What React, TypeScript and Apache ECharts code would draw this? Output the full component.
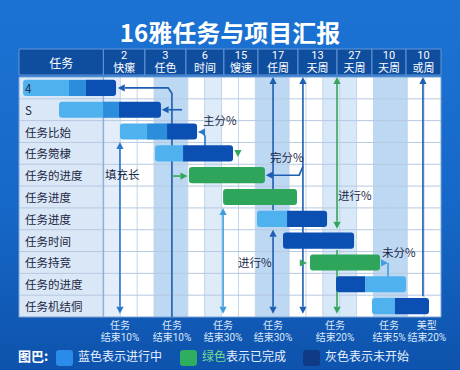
import React, { useEffect, useRef } from "react";
import * as echarts from "echarts";

const FONT = '"Noto Sans CJK SC", "Noto Sans", sans-serif';
const FONT_TIGHT = 'Roboto, "Noto Sans CJK SC", sans-serif';

const titleText = "16雅任务与项目汇报";
const rowLabels = ["4", "S", "任务比始", "任务箢棣", "任务的进度", "任务进度", "任务迸度", "任务时间", "任务持竞", "任务的进度", "任务机结侗"];

const headerFirst = "任务";
const headerEdges = [5, 7.46, 9.89, 12.14, 14.16, 16.53, 18.84, 20.91, 22.93, 25];
const headerNums = ["2", "3", "6", "15", "17", "13", "27", "10", "10"];
const headerWords = ["快瘰", "任色", "时间", "馊速", "任周", "天周", "天周", "天周", "或周"];

// per row: breakpoints along the timeline, and the status of each segment
const barStops: number[][] = [
  [0.24, 2.96, 3.97, 5.75],
  [2.37, 4.98, 5.92, 8.41],
  [5.98, 7.58, 8.77, 10.55],
  [8.06, 9.72, 12.68],
  [10.07, 14.57],
  [12.09, 16.47],
  [14.1, 15.88, 18.25],
  [15.64, 19.85],
  [17.24, 21.39],
  [18.78, 20.5, 22.93],
  [20.91, 22.27, 24.29],
];
const barKinds: string[][] = [
  ["light", "mid", "dark"],
  ["light", "mid", "dark"],
  ["light", "mid", "dark"],
  ["light", "dark"],
  ["green"],
  ["green"],
  ["light", "dark"],
  ["dark"],
  ["green"],
  ["dark", "light"],
  ["light", "dark"],
];

const bandSpans = [[5, 6], [8, 10], [11, 12], [14, 16], [18, 20], [21, 23]];

// connectors: points in [timeline, row] units
const links: { pts: number[][]; tone: string; start?: boolean; end?: boolean }[] = [
  { pts: [[5.98, 2.98], [5.98, 10.85]], tone: "mid", start: true, end: true },
  { pts: [[9.06, 11], [9.06, 0.76], [8.84, 0.5], [5.85, 0.5]], tone: "blue", end: true },
  { pts: [[9.66, 1.5], [8.45, 1.5]], tone: "blue", end: true },
  { pts: [[12.09, 6.0], [12.09, 10.85]], tone: "light", start: true, end: true },
  { pts: [[15.05, 0.0], [15.05, 6.1]], tone: "blue", start: true },
  { pts: [[15.05, 7.0], [15.05, 10.85]], tone: "blue", start: true, end: true },
  { pts: [[16.82, 0.0], [16.82, 10.85]], tone: "blue", start: true, end: true },
  { pts: [[16.82, 4.1], [16.6, 4.5], [14.62, 4.5]], tone: "blue", end: true },
  { pts: [[18.84, 0.0], [18.84, 6.95]], tone: "green", start: true, end: true },
  { pts: [[18.84, 7.93], [18.84, 10.85]], tone: "green", end: true },
  { pts: [[23.93, 0.0], [23.93, 10.05]], tone: "blue", start: true },
  { pts: [[11.02, 3.16], [11.02, 2.7], [10.85, 2.52], [10.6, 2.52]], tone: "mid", end: true },
  { pts: [[9.06, 4.54], [9.98, 4.54]], tone: "green", end: true },
  { pts: [[12.97, 3.35], [12.97, 3.67]], tone: "green", end: true },
  { pts: [[16.6, 8.52], [17.05, 8.52]], tone: "green", end: true },
  { pts: [[21.45, 8.52], [21.86, 8.52]], tone: "light", end: true },
  { pts: [[21.86, 8.52], [21.86, 9.17]], tone: "light" },
];

const notes: [string, number, number][] = [
  ["主分%", 10.9, 1.97],
  ["完分%", 14.87, 3.67],
  ["填充长", 5.09, 4.45],
  ["进行%", 18.9, 5.41],
  ["进行%", 12.97, 8.48],
  ["未分%", 21.5, 8.02],
];

const footAt = [5.98, 9.06, 12.09, 15.05, 18.72, 21.92, 24.16];
const footTop = ["任务", "任务", "任务", "任务", "任务", "任务", "美型"];
const footBottom = ["结束10%", "结束10%", "结束30%", "结束30%", "结束20%", "结束5%", "结束20%"];

const legendItems = ["蓝色表示进行中", "绿色表示已完成", "灰色表示未开始"];

const BAR_COLORS: Record<string, string> = {
  light: "#4fb1ee",
  mid: "#2b8ddb",
  dark: "#0b4fb3",
  green: "#2ea55a",
};
const LINE_COLORS: Record<string, string> = {
  blue: "#1d5db2",
  mid: "#2a78c9",
  light: "#3d9fe0",
  green: "#34a65c",
};
const BAND_TONES = ["#e4eefa", "#bcd8f3", "#deebf8", "#bcd8f3", "#d7e8f8", "#bcd8f3"];

function txt(text: string, x: number, y: number, fill: string, size: number, align = "center", family = FONT) {
  return {
    type: "text",
    style: {
      text,
      x,
      y,
      fill,
      fontSize: size,
      lineHeight: size + 1,
      fontFamily: family,
      align,
      verticalAlign: "middle",
    },
  };
}
function rect(x: number, y: number, w: number, h: number, fill: string, stroke?: string, lw = 1) {
  return { type: "rect", shape: { x, y, width: w, height: h }, style: { fill, stroke: stroke || null, lineWidth: lw } };
}
function seg(x1: number, y1: number, x2: number, y2: number, stroke: string, lw: number) {
  return { type: "line", shape: { x1, y1, x2, y2 }, style: { stroke, lineWidth: lw } };
}

function buildOption() {
  const segData: any[] = [];
  barStops.forEach((stops, row) => {
    for (let i = 0; i < stops.length - 1; i++) {
      segData.push([row, stops[i], stops[i + 1], i === 0 ? 1 : 0, i === stops.length - 2 ? 1 : 0, barKinds[row][i]]);
    }
  });

  const bgSeries = {
    type: "custom",
    xAxisIndex: 0,
    yAxisIndex: 1,
    z: 1,
    silent: true,
    data: [[0, 0]],
    renderItem: (_p: any, api: any) => {
      const c = (v: number, y: number) => api.coord([v, y]);
      const [xL, yT] = c(0, 0);
      const [xC] = c(5, 0);
      const [xR, yB] = c(25, 11);
      const ch: any[] = [];
      ch.push(rect(xC, yT, xR - xC, yB - yT, "#ffffff"));
      bandSpans.forEach(([a, b], i) => {
        const [xa] = c(a, 0);
        const [xb] = c(b, 0);
        ch.push(rect(xa, yT, xb - xa, yB - yT, BAND_TONES[i]));
      });
      ch.push(rect(xL, yT, xC - xL, yB - yT, "#dae7f6"));
      for (let v = 6; v < 25; v++) {
        const [x] = c(v, 0);
        ch.push(seg(x, yT, x, yB, "#c4d5e9", 1));
      }
      for (let r = 1; r < 11; r++) {
        const [, y] = c(0, r);
        ch.push(seg(xL, y, xR, y, "#b5c9e2", 1));
      }
      ch.push(seg(xC, yT, xC, yB, "#8fb0d8", 1.5));
      ch.push({ type: "rect", shape: { x: xL, y: yT, width: xR - xL, height: yB - yT }, style: { fill: "none", stroke: "#7ea5d6", lineWidth: 1 } });
      // header row
      const hT = yT - 28;
      const hB = yT - 2;
      ch.push(rect(xL, hT, xC - xL, hB - hT, "#0f4d9f", "#6297d5", 1));
      ch.push(txt(headerFirst, (xL + xC) / 2, (hT + hB) / 2, "#ffffff", 12));
      for (let i = 0; i < headerNums.length; i++) {
        const [xa] = c(headerEdges[i], 0);
        const [xb] = c(headerEdges[i + 1], 0);
        ch.push(rect(xa, hT, xb - xa, hB - hT, "#0f4d9f", "#6297d5", 1));
        ch.push(txt(headerNums[i], (xa + xb) / 2, hT + 6.8, "#ffffff", 11, "center", FONT_TIGHT));
        ch.push(txt(headerWords[i], (xa + xb) / 2, hT + 19.6, "#ffffff", 11, "center", FONT_TIGHT));
      }
      // footer labels
      footAt.forEach((v, i) => {
        const [x] = c(v, 11);
        ch.push(txt(footTop[i], x, yB + 8, "#dce8f8", 10, "center", FONT_TIGHT));
        ch.push(txt(footBottom[i], x, yB + 20, "#dce8f8", 10, "center", FONT_TIGHT));
      });
      return { type: "group", children: ch };
    },
  };

  const linkSeries = {
    type: "custom",
    xAxisIndex: 0,
    yAxisIndex: 1,
    z: 2,
    silent: true,
    data: [[0, 0]],
    renderItem: (_p: any, api: any) => {
      const ch: any[] = [];
      const L = 7;
      const W = 3.6;
      links.forEach((lk) => {
        const color = LINE_COLORS[lk.tone];
        const px = lk.pts.map((p) => api.coord(p));
        const line = px.map((p: number[]) => [p[0], p[1]]);
        const head = (tip: number[], prev: number[]) => {
          const dx = tip[0] - prev[0];
          const dy = tip[1] - prev[1];
          const len = Math.hypot(dx, dy) || 1;
          const ux = dx / len;
          const uy = dy / len;
          const bx = tip[0] - ux * L;
          const by = tip[1] - uy * L;
          ch.push({
            type: "polygon",
            shape: { points: [[tip[0], tip[1]], [bx - uy * W, by + ux * W], [bx + uy * W, by - ux * W]] },
            style: { fill: color },
          });
          return [bx, by];
        };
        let total = 0;
        for (let i = 1; i < px.length; i++) total += Math.hypot(px[i][0] - px[i - 1][0], px[i][1] - px[i - 1][1]);
        if (lk.end) line[line.length - 1] = head(px[px.length - 1], px[px.length - 2]);
        if (lk.start) line[0] = head(px[0], px[1]);
        const headCount = (lk.end ? 1 : 0) + (lk.start ? 1 : 0);
        if (total > headCount * L + 1) {
          ch.push({ type: "polyline", shape: { points: line }, style: { stroke: color, lineWidth: 1.6, fill: "none" } });
        }
      });
      return { type: "group", children: ch };
    },
  };

  const barSeries = {
    type: "custom",
    xAxisIndex: 0,
    yAxisIndex: 1,
    z: 3,
    silent: true,
    encode: { x: [1, 2], y: 0 },
    data: segData,
    renderItem: (params: any, api: any) => {
      const item = segData[params.dataIndex];
      const row = item[0];
      const p1 = api.coord([item[1], row + 0.5]);
      const p2 = api.coord([item[2], row + 0.5]);
      const h = api.size([0, 1])[1] * 0.74;
      const r = 3;
      const radius = [item[3] ? r : 0, item[4] ? r : 0, item[4] ? r : 0, item[3] ? r : 0];
      return {
        type: "rect",
        shape: { x: p1[0], y: p1[1] - h / 2, width: p2[0] - p1[0], height: h, r: radius },
        style: { fill: BAR_COLORS[item[5]] },
      };
    },
  };

  const noteSeries = {
    type: "custom",
    xAxisIndex: 0,
    yAxisIndex: 1,
    z: 4,
    silent: true,
    data: [[0, 0]],
    renderItem: (_p: any, api: any) => {
      const ch = notes.map(([t, v, y]) => {
        const [x, yy] = api.coord([v, y]);
        return txt(t, x, yy, "#1b2a46", 11.5, "left");
      });
      return { type: "group", children: ch };
    },
  };

  const lx = [56, 180, 303];
  const lcol = ["#2a8ce8", "#2fae5f", "#0f3b86"];
  const ly = 358;
  const legend: any[] = [
    { type: "text", left: 18, top: ly - 9, style: { text: "图巴:", fill: "#ffffff", fontSize: 13, fontWeight: "bold", fontFamily: FONT } },
  ];
  legendItems.forEach((t, i) => {
    legend.push({ type: "rect", left: lx[i], top: ly - 8, shape: { width: 17, height: 16, r: 3 }, style: { fill: lcol[i] } });
    if (i === 1) {
      legend.push({
        type: "text",
        left: lx[i] + 22,
        top: ly - 9,
        style: {
          text: "{g|" + t.slice(0, 2) + "}{w|" + t.slice(2) + "}",
          rich: {
            g: { fill: "#74dc8e", fontSize: 12, fontFamily: FONT },
            w: { fill: "#e8f1fc", fontSize: 12, fontFamily: FONT },
          },
          fontSize: 12,
          fontFamily: FONT,
        },
      });
    } else {
      legend.push({ type: "text", left: lx[i] + 22, top: ly - 9, style: { text: t, fill: "#e8f1fc", fontSize: 12, fontFamily: FONT } });
    }
  });

  return {
    animation: false,
    textStyle: { fontFamily: FONT },
    title: {
      text: titleText,
      left: "center",
      top: 14,
      textStyle: { color: "#ffffff", fontSize: 24, fontWeight: "bold", fontFamily: FONT },
    },
    grid: { left: 19, right: 19, top: 77, bottom: 53, containLabel: false },
    xAxis: { type: "value", min: 0, max: 25, show: false },
    yAxis: [
      {
        type: "category",
        data: rowLabels,
        inverse: true,
        z: 10,
        axisLine: { show: false },
        axisTick: { show: false },
        splitLine: { show: false },
        axisLabel: { interval: 0, align: "left", margin: -6, color: "#1b2844", fontSize: 11.5, fontFamily: FONT },
      },
      { type: "value", min: 0, max: 11, inverse: true, show: false },
    ],
    graphic: legend,
    series: [bgSeries, linkSeries, barSeries, noteSeries],
  };
}

export default function App() {
  const ref = useRef<HTMLDivElement>(null);
  useEffect(() => {
    const chart = echarts.init(ref.current!, null, { renderer: "svg" });
    chart.setOption(buildOption() as any);
    return () => chart.dispose();
  }, []);
  return (
    <div
      ref={ref}
      style={{
        position: "fixed",
        left: 0,
        top: 0,
        width: 460,
        height: 370,
        background: "linear-gradient(180deg, #1c73d3 0%, #1668c8 55%, #0e53ad 100%)",
      }}
    />
  );
}
